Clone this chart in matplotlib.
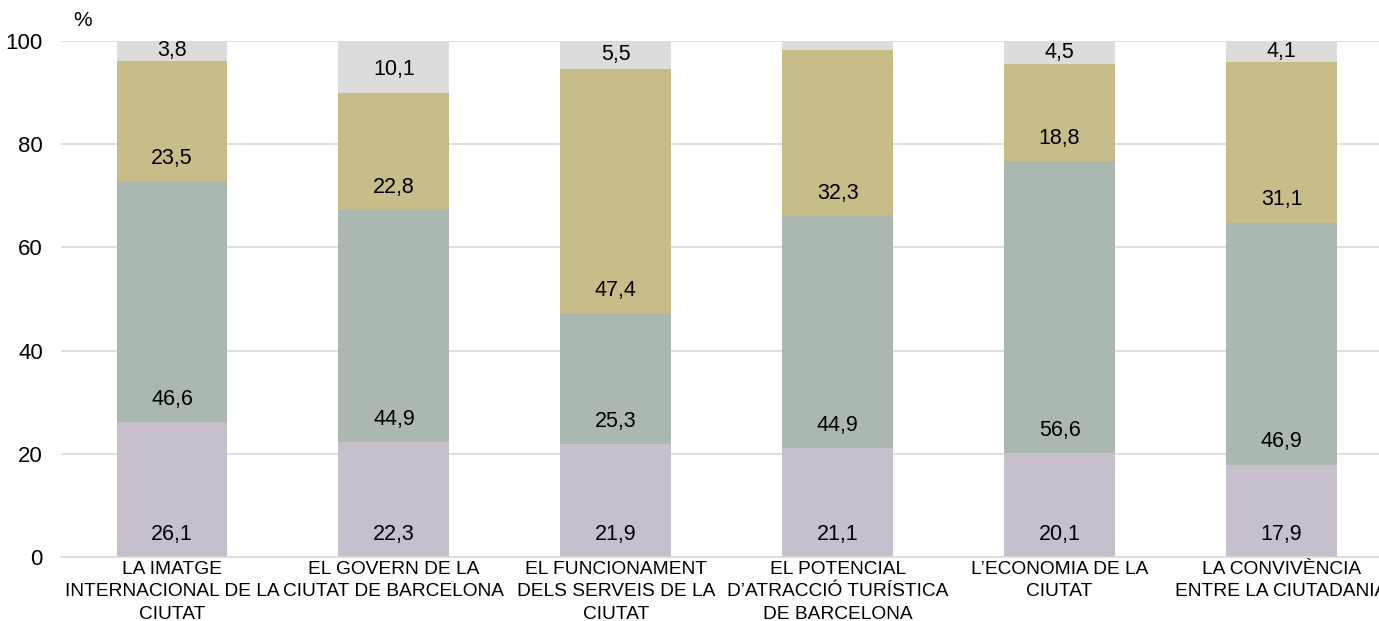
import matplotlib
matplotlib.use("Agg")
import matplotlib.pyplot as plt
import numpy as np

plt.rcParams['font.family'] = ['Liberation Sans', 'DejaVu Sans']

categories = [
    "LA IMATGE\nINTERNACIONAL DE LA\nCIUTAT",
    "EL GOVERN DE LA\nCIUTAT DE BARCELONA",
    "EL FUNCIONAMENT\nDELS SERVEIS DE LA\nCIUTAT",
    "EL POTENCIAL\nD\u2019ATRACCI\u00d3 TUR\u00cdSTICA\nDE BARCELONA",
    "L\u2019ECONOMIA DE LA\nCIUTAT",
    "LA CONVIV\u00c8NCIA\nENTRE LA CIUTADANIA",
]
s1 = [26.1, 22.3, 21.9, 21.1, 20.1, 17.9]
s2 = [46.6, 44.9, 25.3, 44.9, 56.6, 46.9]
s3 = [23.5, 22.8, 47.4, 32.3, 18.8, 31.1]
s4 = [3.8, 10.1, 5.5, 1.7, 4.5, 4.1]
show_label4 = [True, True, True, False, True, True]

series = [s1, s2, s3, s4]
colors = ["#c7bfcb", "#abb8b0", "#c7bd89", "#dcdcdc"]
yticks = [0, 20, 40, 60, 80, 100]

fig = plt.figure(figsize=(13.79, 6.21), dpi=100)
ax = fig.add_axes([61.05 / 1379, 1 - 557 / 621, 6 * 221.9 / 1379, (557 - 41) / 621])

x = np.arange(len(categories))
bottom = np.zeros(len(categories))
for si, (vals, col) in enumerate(zip(series, colors)):
    vals = np.array(vals)
    ax.bar(x, vals, width=0.5, bottom=bottom, color=col, zorder=2, linewidth=0)
    for i, v in enumerate(vals):
        if si == 3 and not show_label4[i]:
            continue
        lab = f"{v:.1f}".replace(".", ",")
        if v < 8:
            ax.text(x[i], bottom[i] + v / 2, lab, ha="center", va="center",
                    fontsize=15.5, color="#000000", zorder=3)
        else:
            ax.annotate(lab, xy=(x[i], bottom[i]), xytext=(0, 16.5),
                        textcoords="offset points", ha="center", va="center",
                        fontsize=15.5, color="#000000", zorder=3)
    bottom = bottom + vals

ax.set_xlim(-0.5, len(categories) - 0.5)
ax.set_ylim(0, 100)
ax.set_yticks(yticks)
ax.set_yticklabels([str(t) for t in yticks], fontsize=16)
ax.set_xticks(x)
ax.set_xticklabels(categories, fontsize=13.8, linespacing=1.4)
ax.tick_params(axis="both", length=0)
ax.tick_params(axis="y", pad=13)
ax.tick_params(axis="x", pad=3)
ax.yaxis.grid(True, color="#d9d9d9", linewidth=1.2, zorder=0)
ax.set_axisbelow(True)
for sp in ["top", "right", "left"]:
    ax.spines[sp].set_visible(False)
ax.spines["bottom"].set_color("#d9d9d9")
ax.spines["bottom"].set_linewidth(1.2)

fig.text(83 / 1379, 1 - 20 / 621, "%", ha="center", va="center", fontsize=15)

fig.savefig("out.png", dpi=100)
